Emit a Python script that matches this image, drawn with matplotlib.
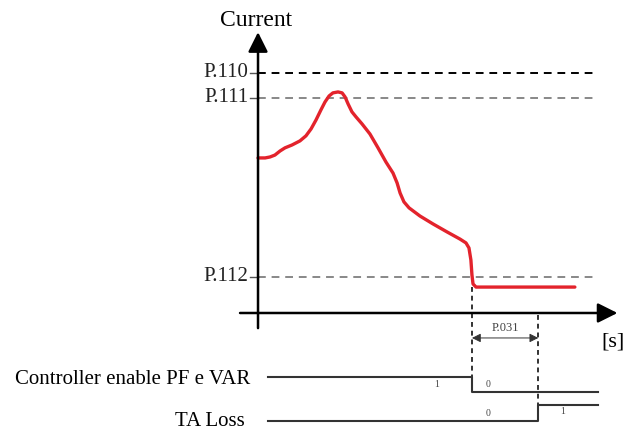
import matplotlib
matplotlib.use('Agg')
import matplotlib.pyplot as plt

plt.rcParams['font.family'] = ['Liberation Serif', 'DejaVu Serif']

# current trace: time [s] and current [% of P.110]
time = [0.0, 0.33, 0.56, 0.79, 1.03, 1.26, 1.59, 1.96, 2.24, 2.48, 2.71, 2.94,
        3.13, 3.32, 3.50, 3.74, 3.93, 4.07, 4.21, 4.39, 4.58, 4.86, 5.23, 5.61,
        5.98, 6.31, 6.50, 6.64, 6.82, 7.06, 7.57, 8.18, 8.83, 9.44, 9.72, 9.86,
        9.95, 10.0, 10.05, 10.19, 14.81]
current = [64.6, 64.6, 65.0, 65.8, 67.5, 68.8, 70.0, 71.7, 73.8, 76.7, 80.4, 84.6,
           87.9, 90.4, 91.7, 92.1, 91.7, 90.0, 87.1, 83.8, 81.7, 78.8, 74.6, 68.8,
           62.9, 58.3, 54.2, 50.0, 46.3, 43.8, 40.4, 37.1, 33.8, 30.8, 29.2, 27.1,
           22.1, 15.8, 12.1, 10.8, 10.8]

threshold_names = ['P.110', 'P.111', 'P.112']
threshold_values = [100, 89.6, 15]
threshold_colors = ['black', '#888888', '#888888']

t_trip = 10.0      # controller disabled
p031 = 3.1         # delay until TA loss
t_end = 15.9
t_sig_start = 0.47

# logic signal levels (drawn below the time axis)
ctrl_hi, ctrl_lo = -26.7, -32.9
ta_lo, ta_hi = -45.0, -38.3

fig = plt.figure(figsize=(6.26, 4.29), dpi=100)
ax = fig.add_axes([0, 0, 1, 1])
ax.set_xlim(-12.06, 17.20)
ax.set_ylim(-48.33, 130.4)
ax.axis('off')

# axes with arrows
ax.annotate('', xy=(16.8, 0), xytext=(-0.84, 0),
            arrowprops=dict(arrowstyle='-|>', mutation_scale=30, lw=1.8, color='black', shrinkA=0, shrinkB=0))
ax.annotate('', xy=(0, 117), xytext=(0, -6.3),
            arrowprops=dict(arrowstyle='-|>', mutation_scale=30, lw=1.8, color='black', shrinkA=0, shrinkB=0))
ax.text(-0.1, 122.0, 'Current', fontsize=17, ha='center', va='center')
ax.text(16.6, -12.1, '[s]', fontsize=16, ha='center', va='center')

# thresholds
for name, val, col in zip(threshold_names, threshold_values, threshold_colors):
    ax.plot([0, t_end], [val, val], color=col, lw=1.4, ls=(0, (4, 3)))
    ax.plot([-0.37, 0], [val, val], color='#555555', lw=1.0)
    ax.text(-0.45, val, name, fontsize=15, ha='right', va='center', color='#222222')

# current trace
ax.plot(time, current, color='#e3232c', lw=2.4, solid_joinstyle='round', solid_capstyle='round')

# timing markers
ax.plot([t_trip, t_trip], [10.8, ctrl_lo], color='#333333', lw=1.4, ls=(0, (2.5, 2)))
ax.plot([t_trip + p031, t_trip + p031], [-1, ta_lo], color='#333333', lw=1.4, ls=(0, (2.5, 2)))
ax.annotate('', xy=(t_trip + p031, -10.4), xytext=(t_trip, -10.4),
            arrowprops=dict(arrowstyle='<|-|>', mutation_scale=13, lw=0.7, color='#333333', shrinkA=0, shrinkB=0))
ax.text(t_trip + p031 / 2, -6.3, 'P.031', fontsize=9, ha='center', va='center', color='#444444')

# logic signals
ax.plot([t_sig_start, t_trip, t_trip, t_end], [ctrl_hi, ctrl_hi, ctrl_lo, ctrl_lo], color='#333333', lw=1.5)
ax.plot([t_sig_start, t_trip + p031, t_trip + p031, t_end], [ta_lo, ta_lo, ta_hi, ta_hi], color='#333333', lw=1.5)
ax.text(-0.37, -27.9, 'Controller enable PF e VAR', fontsize=15, ha='right', va='center')
ax.text(-0.6, -45.0, 'TA Loss', fontsize=15, ha='right', va='center')
ax.text(8.36, -29.6, '1', fontsize=7, ha='center', va='center', color='#444444')
ax.text(10.75, -29.6, '0', fontsize=7, ha='center', va='center', color='#444444')
ax.text(10.75, -41.7, '0', fontsize=7, ha='center', va='center', color='#444444')
ax.text(14.25, -41.0, '1', fontsize=7, ha='center', va='center', color='#444444')

fig.savefig('out.png', dpi=100)
